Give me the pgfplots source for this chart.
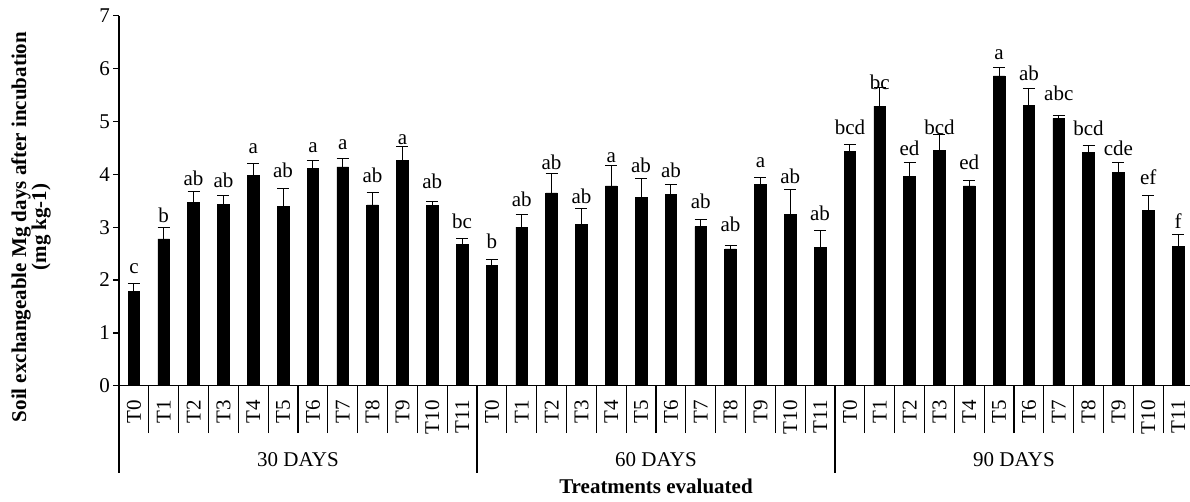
\documentclass[border=0pt]{standalone}
\usepackage{pgfplots}
\pgfplotsset{compat=1.18}
\usepackage{pgfplotstable}
\usepackage{fontspec}
\setmainfont{Liberation Serif}
\newcommand\f{\fontsize{15.75pt}{15pt}\selectfont}

\pgfplotstableread{
x y err lab ly
0 1.79 0.15 c 2.12
1 2.78 0.22 b 3.09
2 3.47 0.20 ab 3.78
3 3.43 0.17 ab 3.75
4 3.98 0.22 a 4.40
5 3.40 0.34 ab 3.94
6 4.11 0.15 a 4.41
7 4.14 0.15 a 4.46
8 3.42 0.23 ab 3.84
9 4.26 0.26 a 4.57
10 3.41 0.08 ab 3.73
11 2.68 0.11 bc 2.98
12 2.27 0.11 b 2.60
13 3.00 0.24 ab 3.40
14 3.65 0.36 ab 4.09
15 3.05 0.30 ab 3.45
16 3.78 0.39 a 4.23
17 3.57 0.36 ab 4.04
18 3.62 0.19 ab 3.94
19 3.01 0.14 ab 3.35
20 2.59 0.07 ab 2.92
21 3.81 0.13 a 4.13
22 3.24 0.47 ab 3.82
23 2.62 0.32 ab 3.13
24 4.43 0.14 bcd 4.76
25 5.29 0.36 bc 5.61
26 3.96 0.27 ed 4.36
27 4.45 0.31 bcd 4.76
28 3.78 0.11 ed 4.09
29 5.86 0.16 a 6.18
30 5.31 0.31 ab 5.77
31 5.06 0.05 abc 5.39
32 4.41 0.13 bcd 4.73
33 4.03 0.20 cde 4.36
34 3.32 0.28 ef 3.81
35 2.64 0.22 f 2.97
}\data

\begin{document}
\begin{tikzpicture}
\begin{axis}[
  scale only axis, width=805.5pt, height=277.5pt,
  xmin=-0.5, xmax=35.5, ymin=0, ymax=7,
  axis x line*=bottom, axis y line*=left,
  axis line style={line width=1pt, black},
  tick align=outside,
  ytick={0,...,7}, major tick length=4.3pt,
  ytick style={line width=1pt, black},
  yticklabel style={font=\f, inner sep=2.4pt},
  /pgf/number format/assume math mode=true,
  xtick={0,...,35},
  xticklabels={T0,T1,T2,T3,T4,T5,T6,T7,T8,T9,T10,T11,T0,T1,T2,T3,T4,T5,T6,T7,T8,T9,T10,T11,T0,T1,T2,T3,T4,T5,T6,T7,T8,T9,T10,T11},
  major x tick style={draw=none},
  minor xtick={-0.5,0.5,...,35.5},
  minor tick length=35.5pt,
  minor x tick style={line width=0.8pt, black},
  xticklabel style={font=\f, rotate=90, anchor=east, inner sep=0pt, xshift=-6.5pt},
  xlabel={Treatments evaluated},
  xlabel style={font=\f\bfseries, at={(axis description cs:0.5,0)}, anchor=base, yshift=-80.5pt},
  ylabel={Soil exchangeable Mg days after incubation\\(mg kg-1)},
  ylabel style={font=\f\bfseries, align=center, at={(axis description cs:-0.0819,0.429)}, anchor=center},
  clip=false,
]
\addplot[ybar, bar width=0.39, fill=black, draw=black,
  error bars/.cd, y dir=plus, y explicit,
  error bar style={line width=0.75pt, black},
  error mark=|,
  error mark options={mark size=4.5pt, line width=0.75pt, black}]
  table[x=x, y=y, y error=err] {\data};
\addplot[draw=none, nodes near coords, point meta=explicit symbolic,
  nodes near coords style={font=\f, anchor=base, inner sep=0pt}]
  table[x=x, y=ly, meta=lab] {\data};
\draw[line width=0.8pt] (axis cs:-0.5,0) -- ++(0pt,-65.5pt);
\draw[line width=0.8pt] (axis cs:11.5,0) -- ++(0pt,-65.5pt);
\draw[line width=0.8pt] (axis cs:23.5,0) -- ++(0pt,-65.5pt);
\draw[line width=0.8pt] (axis cs:35.5,0) -- ++(0pt,-65.5pt);
\node[font=\f, anchor=base, yshift=-60.75pt] at (axis cs:5.5,0) {30 DAYS};
\node[font=\f, anchor=base, yshift=-60.75pt] at (axis cs:17.5,0) {60 DAYS};
\node[font=\f, anchor=base, yshift=-60.75pt] at (axis cs:29.5,0) {90 DAYS};
\end{axis}
\pgfresetboundingbox
\path[use as bounding box] (-89.25pt,-86.5pt) rectangle (803.25pt,289.3pt);
\end{tikzpicture}
\end{document}
